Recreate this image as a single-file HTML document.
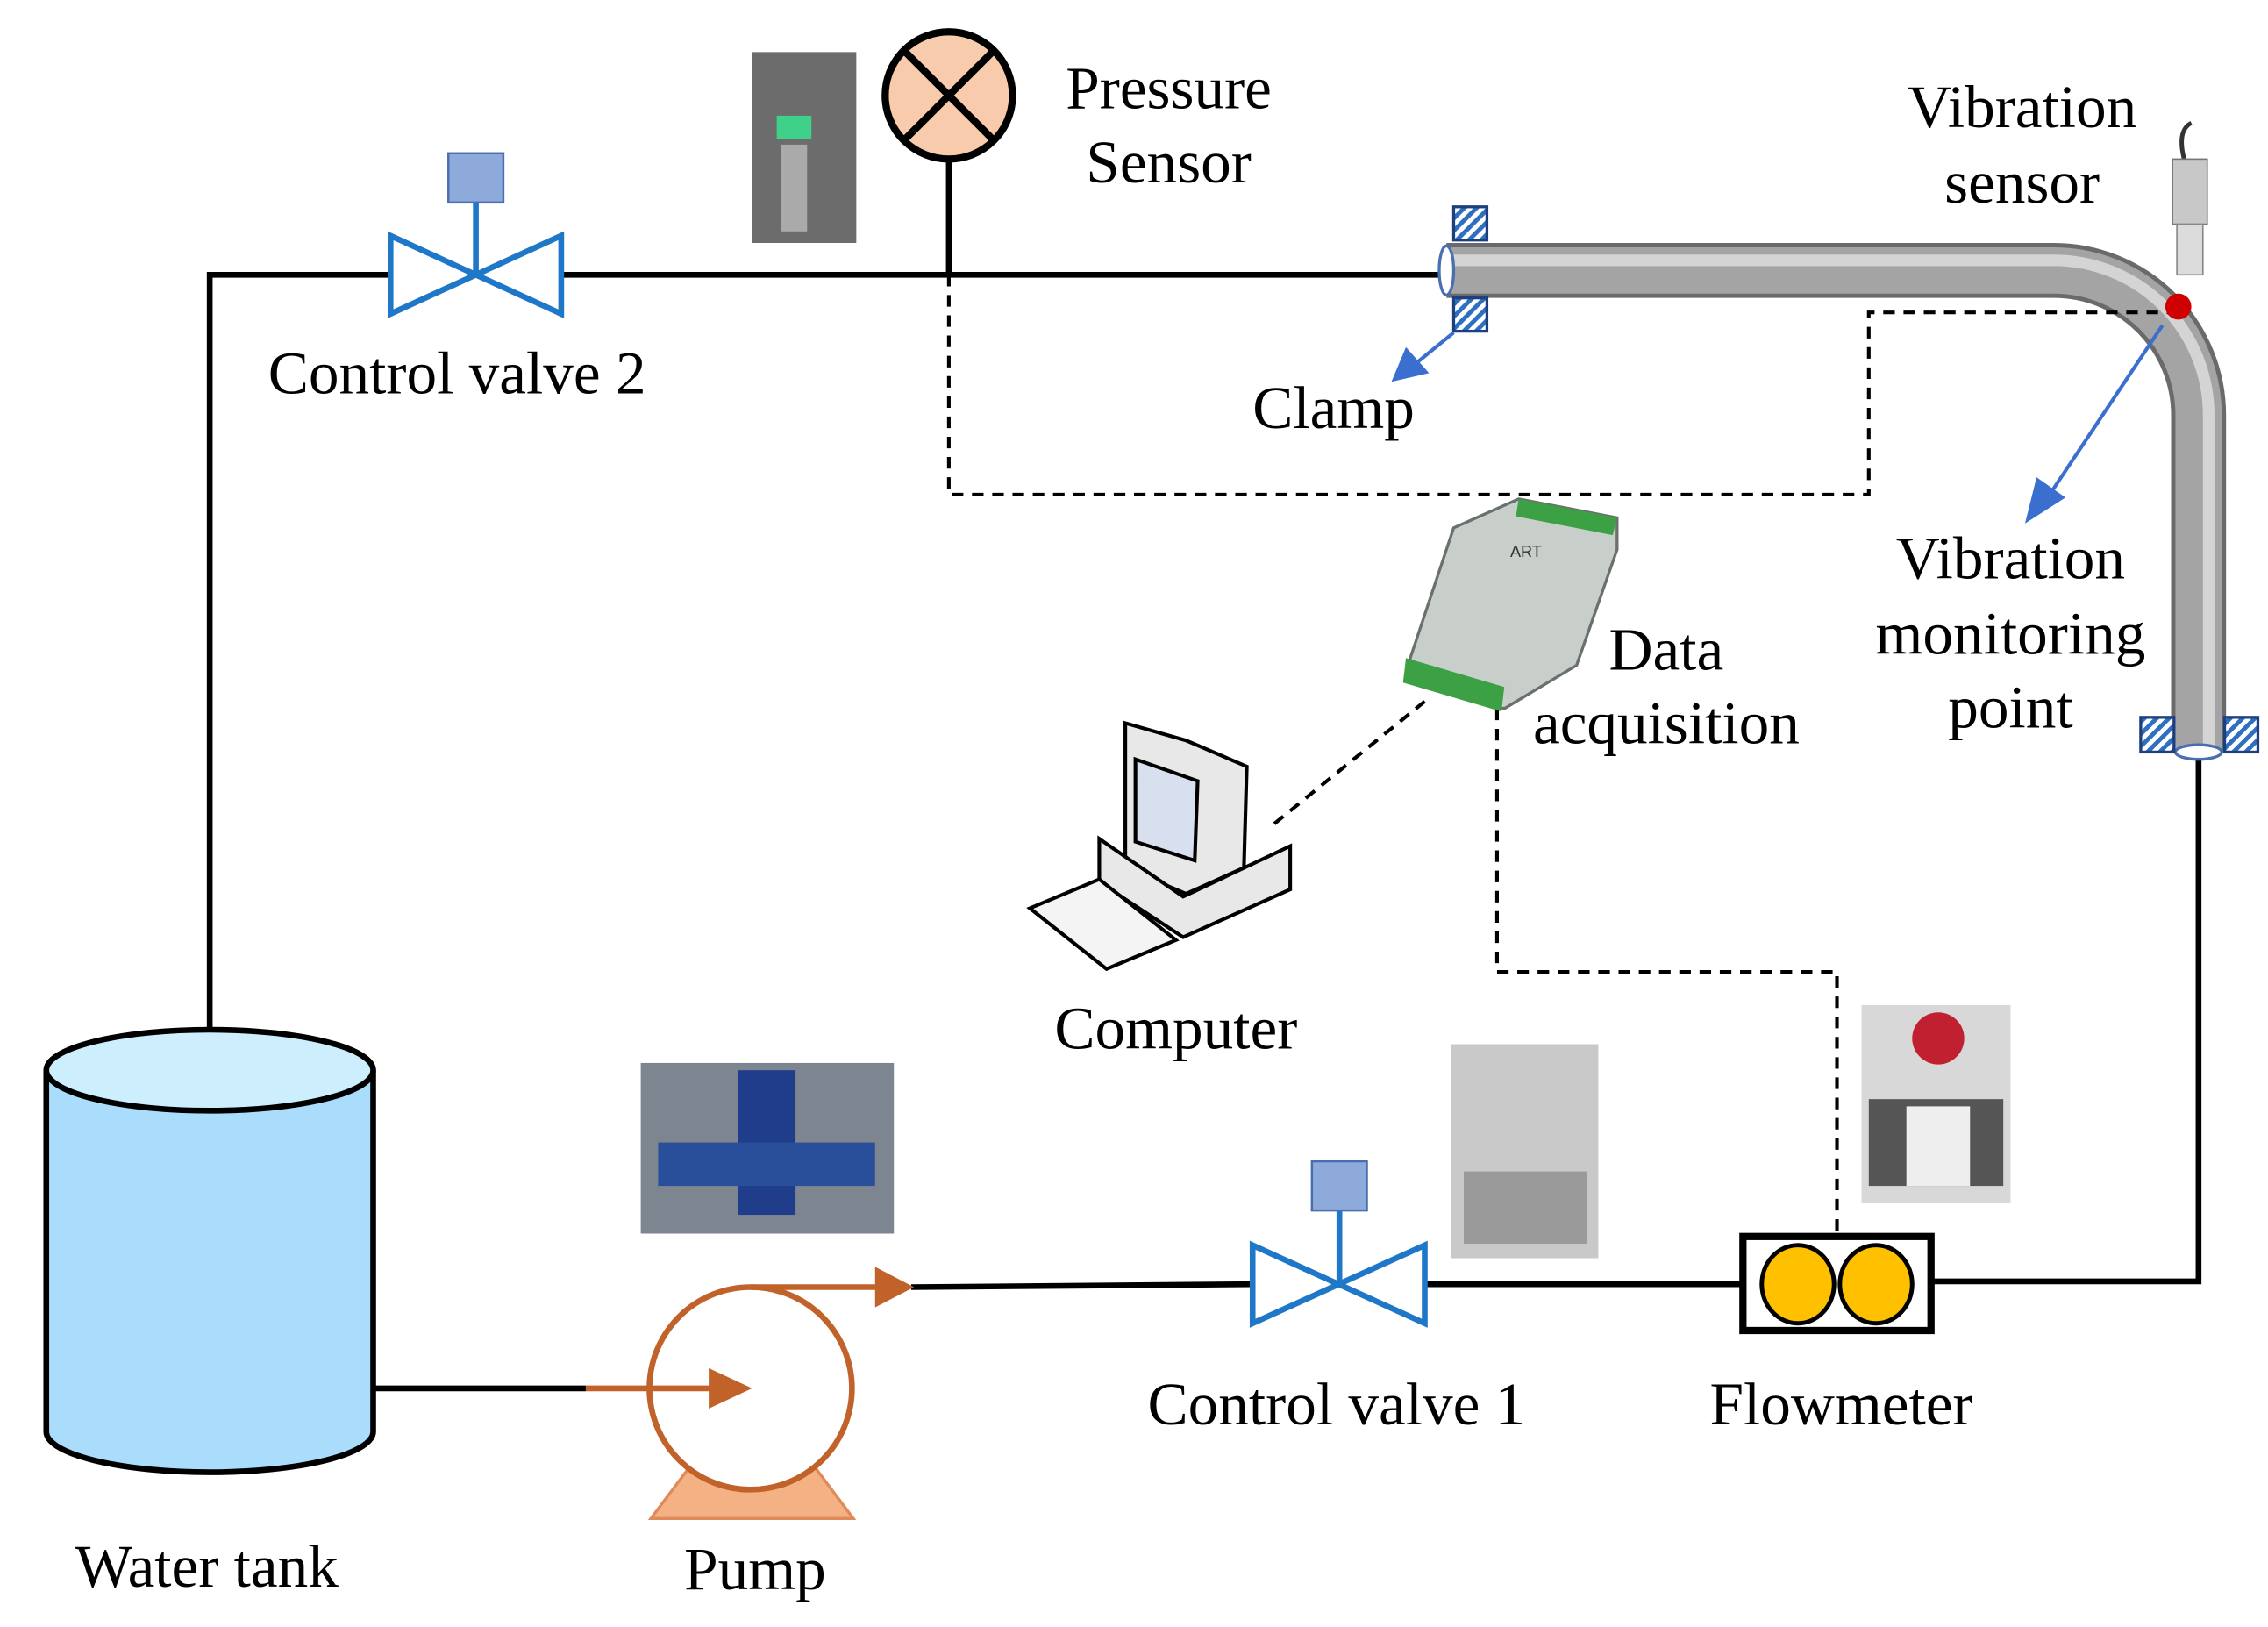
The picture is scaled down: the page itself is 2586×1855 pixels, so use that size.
<!DOCTYPE html>
<html><head><meta charset="utf-8"><style>html,body{margin:0;padding:0;background:#fff}svg{display:block}</style></head>
<body>
<svg width="2586" height="1855" viewBox="0 0 1568 1125" preserveAspectRatio="none" xmlns="http://www.w3.org/2000/svg" font-family="Liberation Serif, serif" font-size="42" text-anchor="middle">
<defs>
<pattern id="st" width="6" height="6" patternUnits="userSpaceOnUse" patternTransform="rotate(45)"><rect width="6" height="6" fill="#fff"/><rect width="3" height="6" fill="#2f6fc0"/></pattern>
</defs>
<g fill="none" stroke="#000" stroke-width="4">
<polyline points="145,712 145,190 1000,190"/>
<line x1="656" y1="111" x2="656" y2="190"/>
<polyline points="1335,886 1520,886 1520,520"/>
<line x1="985" y1="888" x2="1205" y2="888"/>
<line x1="630" y1="890" x2="866" y2="888"/>
<line x1="258" y1="960" x2="405" y2="960"/>
</g>
<path d="M1000,187 H1420 A100,100 0 0 1 1520,287 V520" fill="none" stroke="#6a6a6a" stroke-width="38"/>
<path d="M1000,187 H1420 A100,100 0 0 1 1520,287 V520" fill="none" stroke="#a4a4a4" stroke-width="32"/>
<path d="M1000,180 H1420 A107,107 0 0 1 1527,287 V520" fill="none" stroke="#d4d4d4" stroke-width="8"/>
<ellipse cx="1000" cy="187" rx="5" ry="17" fill="#fff" stroke="#4a6fb0" stroke-width="2"/>
<ellipse cx="1520" cy="520" rx="16" ry="5" fill="#fff" stroke="#4a6fb0" stroke-width="2"/>
<g fill="url(#st)" stroke="#1c3f80" stroke-width="2">
<rect x="1005" y="143" width="23" height="23"/><rect x="1005" y="206" width="23" height="23"/>
<rect x="1480" y="496" width="23" height="24"/><rect x="1538" y="496" width="23" height="24"/>
</g>
<g fill="none" stroke="#000" stroke-width="2.5" stroke-dasharray="8,6">
<polyline points="656,190 656,342 1292,342 1292,216 1500,216"/>
<line x1="985" y1="485" x2="878" y2="572"/>
<polyline points="1035,490 1035,672 1270,672 1270,855"/>
</g>
<path d="M1515,85 q-10,5 -5,25" stroke="#333" stroke-width="3" fill="none"/>
<rect x="1502" y="110" width="24" height="45" fill="#c8c8c8" stroke="#777"/>
<rect x="1505" y="155" width="18" height="35" fill="#dcdcdc" stroke="#888"/>
<circle cx="1506" cy="212" r="9" fill="#d00000"/>
<line x1="1495" y1="225" x2="1415" y2="345" stroke="#3a6fd0" stroke-width="2.5"/>
<polygon points="1400,362 1408,330 1428,344" fill="#3a6fd0"/>
<line x1="1005" y1="230" x2="978" y2="252" stroke="#3a6fd0" stroke-width="2.5"/>
<polygon points="962,264 972,240 988,258" fill="#3a6fd0"/>
<g stroke="#1f77c8" stroke-width="4" fill="#fff">
<polygon points="270,163 388,217 388,163 270,217"/>
<line x1="329" y1="190" x2="329" y2="140"/>
</g>
<rect x="310" y="106" width="38" height="34" fill="#8eaadb" stroke="#4a6fb0" stroke-width="1.5"/>
<g stroke="#1f77c8" stroke-width="4" fill="#fff">
<polygon points="866,861 985,915 985,861 866,915"/>
<line x1="926" y1="888" x2="926" y2="837"/>
</g>
<rect x="907" y="803" width="38" height="34" fill="#8eaadb" stroke="#4a6fb0" stroke-width="1.5"/>
<circle cx="656" cy="66" r="44" fill="#f8cbad" stroke="#000" stroke-width="5"/>
<line x1="625" y1="35" x2="687" y2="97" stroke="#000" stroke-width="5"/><line x1="687" y1="35" x2="625" y2="97" stroke="#000" stroke-width="5"/>
<rect x="520" y="36" width="72" height="132" fill="#6c6c6c"/><rect x="537" y="80" width="24" height="16" fill="#3fd08a"/><rect x="540" y="100" width="18" height="60" fill="#aaa"/>
<rect x="443" y="735" width="175" height="118" fill="#7d8590"/><rect x="510" y="740" width="40" height="100" fill="#1f3d8a"/><rect x="455" y="790" width="150" height="30" fill="#2a4f9a"/>
<rect x="1003" y="722" width="102" height="148" fill="#c9c9c9"/><rect x="1012" y="810" width="85" height="50" fill="#9a9a9a"/>
<rect x="1287" y="695" width="103" height="137" fill="#d8d8d8"/><circle cx="1340" cy="718" r="18" fill="#c02030"/><rect x="1292" y="760" width="93" height="60" fill="#555"/><rect x="1318" y="765" width="44" height="55" fill="#eee"/>
<polygon points="1050,345 1118,358 1118,380 1090,460 1040,490 975,470 975,455 1005,365" fill="#c8cfca" stroke="#6a706c" stroke-width="2"/>
<polygon points="1050,345 1118,358 1115,370 1048,357" fill="#3ca044"/>
<polygon points="972,455 1040,475 1038,492 970,472" fill="#3ca044"/>
<text x="1055" y="385" font-size="11" font-family="Liberation Sans, sans-serif" fill="#333">ART</text>
<g stroke="#000" stroke-width="2.5" fill="#e8e8e8">
<polygon points="778,500 820,512 862,530 860,600 820,618 778,600"/>
<polygon points="785,525 828,540 826,595 785,582" fill="#d8e0f0"/>
<polygon points="760,580 818,620 892,585 892,615 818,648 760,610"/>
<polygon points="712,628 760,608 813,650 765,670" fill="#f4f4f4"/>
</g>
<rect x="1205" y="855" width="130" height="65" fill="#fff" stroke="#000" stroke-width="5"/>
<ellipse cx="1243" cy="888" rx="25" ry="27" fill="#ffc000" stroke="#000" stroke-width="3"/>
<ellipse cx="1297" cy="888" rx="25" ry="27" fill="#ffc000" stroke="#000" stroke-width="3"/>
<path d="M32,740 V990 A113,28 0 0 0 258,990 V740" fill="#aadcfb" stroke="#000" stroke-width="4"/>
<ellipse cx="145" cy="740" rx="113" ry="28" fill="#cdeefd" stroke="#000" stroke-width="4"/>
<polygon points="480,1010 560,1010 590,1050 450,1050" fill="#f4b183" stroke="#e08a5a" stroke-width="2"/>
<circle cx="519" cy="960" r="70" fill="#fff" stroke="#c0622a" stroke-width="4"/>
<line x1="519" y1="890" x2="610" y2="890" stroke="#c0622a" stroke-width="4"/>
<polygon points="605,876 632,890 605,904" fill="#c0622a"/>
<line x1="405" y1="960" x2="495" y2="960" stroke="#c0622a" stroke-width="4"/>
<polygon points="490,946 520,960 490,974" fill="#c0622a"/>
<text x="808" y="75">Pressure</text><text x="808" y="126">Sensor</text>
<text x="316" y="272">Control valve 2</text>
<text x="922" y="296">Clamp</text>
<text x="1398" y="88">Vibration</text><text x="1398" y="140">sensor</text>
<text x="1390" y="400">Vibration</text><text x="1390" y="452">monitoring</text><text x="1390" y="503">point</text>
<text x="1152" y="463">Data</text><text x="1152" y="514">acquisition</text>
<text x="813" y="725">Computer</text>
<text x="924" y="985">Control valve 1</text>
<text x="1273" y="985">Flowmeter</text>
<text x="143" y="1097">Water tank</text>
<text x="522" y="1099">Pump</text>
</svg>
</body></html>
